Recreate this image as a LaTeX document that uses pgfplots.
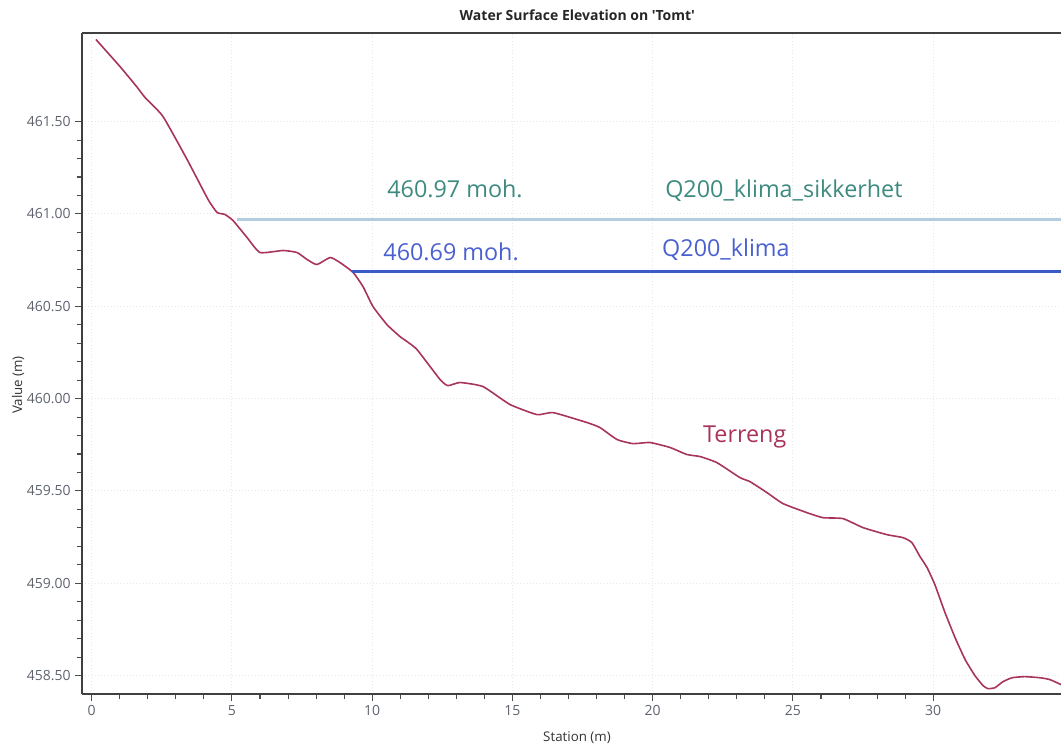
\documentclass[border=0pt]{standalone}
\usepackage{pgfplots}
\pgfplotsset{compat=1.18}
\usetikzlibrary{calc}
\usepackage{fontspec}
\setmainfont{Open Sans}
\definecolor{terr}{HTML}{A8345C}
\definecolor{tealt}{HTML}{3D8A80}
\definecolor{bluet}{HTML}{4A5FD0}
\definecolor{blueline}{HTML}{3B5CC4}
\definecolor{lightline}{HTML}{B2CDE2}
\definecolor{ticklab}{HTML}{5E636E}
\begin{document}
\begin{tikzpicture}
\begin{axis}[
  name=ax,
  scale only axis,
  width=734.25pt, height=495.75pt,
  xmin=-0.346, xmax=34.556,
  ymin=458.40, ymax=461.98,
  axis x line*=bottom, axis y line*=left,
  axis line style={black!75, line width=1pt},
  xtick={0,5,10,15,20,25,30},
  ytick={458.5,459,459.5,460,460.5,461,461.5},
  minor x tick num=4, minor y tick num=4,
  tick align=outside,
  major tick length=5pt, minor tick length=4pt,
  every tick/.style={black!70, line width=0.8pt},
  tick label style={font=\fontsize{10.5}{12}\selectfont, text=ticklab},
  /pgf/number format/assume math mode=true,
  yticklabel style={/pgf/number format/.cd, fixed, fixed zerofill, precision=2},
  xticklabel style={/pgf/number format/.cd, fixed},
  grid=major,
  major grid style={gray!18, dotted, line width=0.8pt},
  clip mode=individual,
]
% Terreng
\addplot[terr, line width=1.2pt, smooth, tension=0.3] coordinates {
(0.15,461.945) (1.01,461.798) (1.60,461.69) (1.90,461.631) (2.54,461.528)
(3.40,461.295) (4.15,461.078) (4.47,461.008) (4.75,460.997) (5.04,460.964)
(5.54,460.872) (6.00,460.791) (6.82,460.802) (7.32,460.791) (7.68,460.753)
(8.03,460.726) (8.50,460.764) (8.85,460.737) (9.32,460.683) (9.67,460.607)
(10.03,460.498) (10.53,460.40) (10.99,460.336) (11.24,460.309) (11.60,460.265)
(12.42,460.103) (12.70,460.070) (13.13,460.087) (13.95,460.065) (14.91,459.968)
(15.88,459.913) (16.45,459.924) (17.66,459.870) (18.12,459.843) (18.73,459.778)
(19.30,459.756) (19.90,459.762) (20.62,459.735) (21.22,459.697) (21.69,459.686)
(22.29,459.653) (23.11,459.572) (23.47,459.550) (24.07,459.491) (24.65,459.431)
(25.50,459.382) (26.07,459.355) (26.78,459.350) (27.50,459.301) (28.35,459.263)
(28.92,459.247) (29.24,459.220) (29.53,459.144) (29.78,459.085) (30.06,458.992)
(30.42,458.841) (30.78,458.705) (31.14,458.586) (31.49,458.499) (31.78,458.445)
(31.95,458.429) (32.20,458.434) (32.49,458.467) (32.81,458.488) (33.27,458.494)
(33.81,458.488) (34.16,458.478) (34.556,458.451)
};
% Q200_klima_sikkerhet
\addplot[lightline, line width=1.6pt] coordinates {(5.18,460.97) (34.556,460.97)};
% Q200_klima
\addplot[blueline, line width=2pt] coordinates {(9.28,460.69) (34.556,460.69)};
\draw[black!75, line width=1pt] (rel axis cs:0,1) -- (rel axis cs:1,1);
\node[anchor=west, text=tealt, font=\fontsize{17.5}{20}\selectfont, inner sep=0pt] at (axis cs:10.53,461.138) {460.97 moh.};
\node[anchor=west, text=tealt, font=\fontsize{17.5}{20}\selectfont, inner sep=0pt] at (axis cs:20.44,461.127) {Q200\_klima\_sikkerhet};
\node[anchor=west, text=bluet, font=\fontsize{17.5}{20}\selectfont, inner sep=0pt] at (axis cs:10.39,460.796) {460.69 moh.};
\node[anchor=west, text=bluet, font=\fontsize{17.5}{20}\selectfont, inner sep=0pt] at (axis cs:20.33,460.807) {Q200\_klima};
\node[anchor=west, text=terr, font=\fontsize{17.5}{20}\selectfont, inner sep=0pt] at (axis cs:21.79,459.794) {Terreng};
\end{axis}
\node[font=\bfseries\fontsize{10.5}{12}\selectfont, text=black!85] at ($(ax.south west)+(371.5pt,509.25pt)$) {Water Surface Elevation on \textquotesingle Tomt\textquotesingle};
\node[font=\fontsize{10}{12}\selectfont, text=black!80] at ($(ax.south west)+(371.25pt,-33pt)$) {Station (m)};
\node[font=\fontsize{10}{12}\selectfont, text=black!80, rotate=90] at ($(ax.south west)+(-48pt,231.75pt)$) {Value (m)};
\pgfresetboundingbox
\useasboundingbox ($(ax.south west)+(-61.5pt,-39.75pt)$) rectangle ($(ax.south west)+(734.25pt,520.5pt)$);
\end{tikzpicture}
\end{document}
